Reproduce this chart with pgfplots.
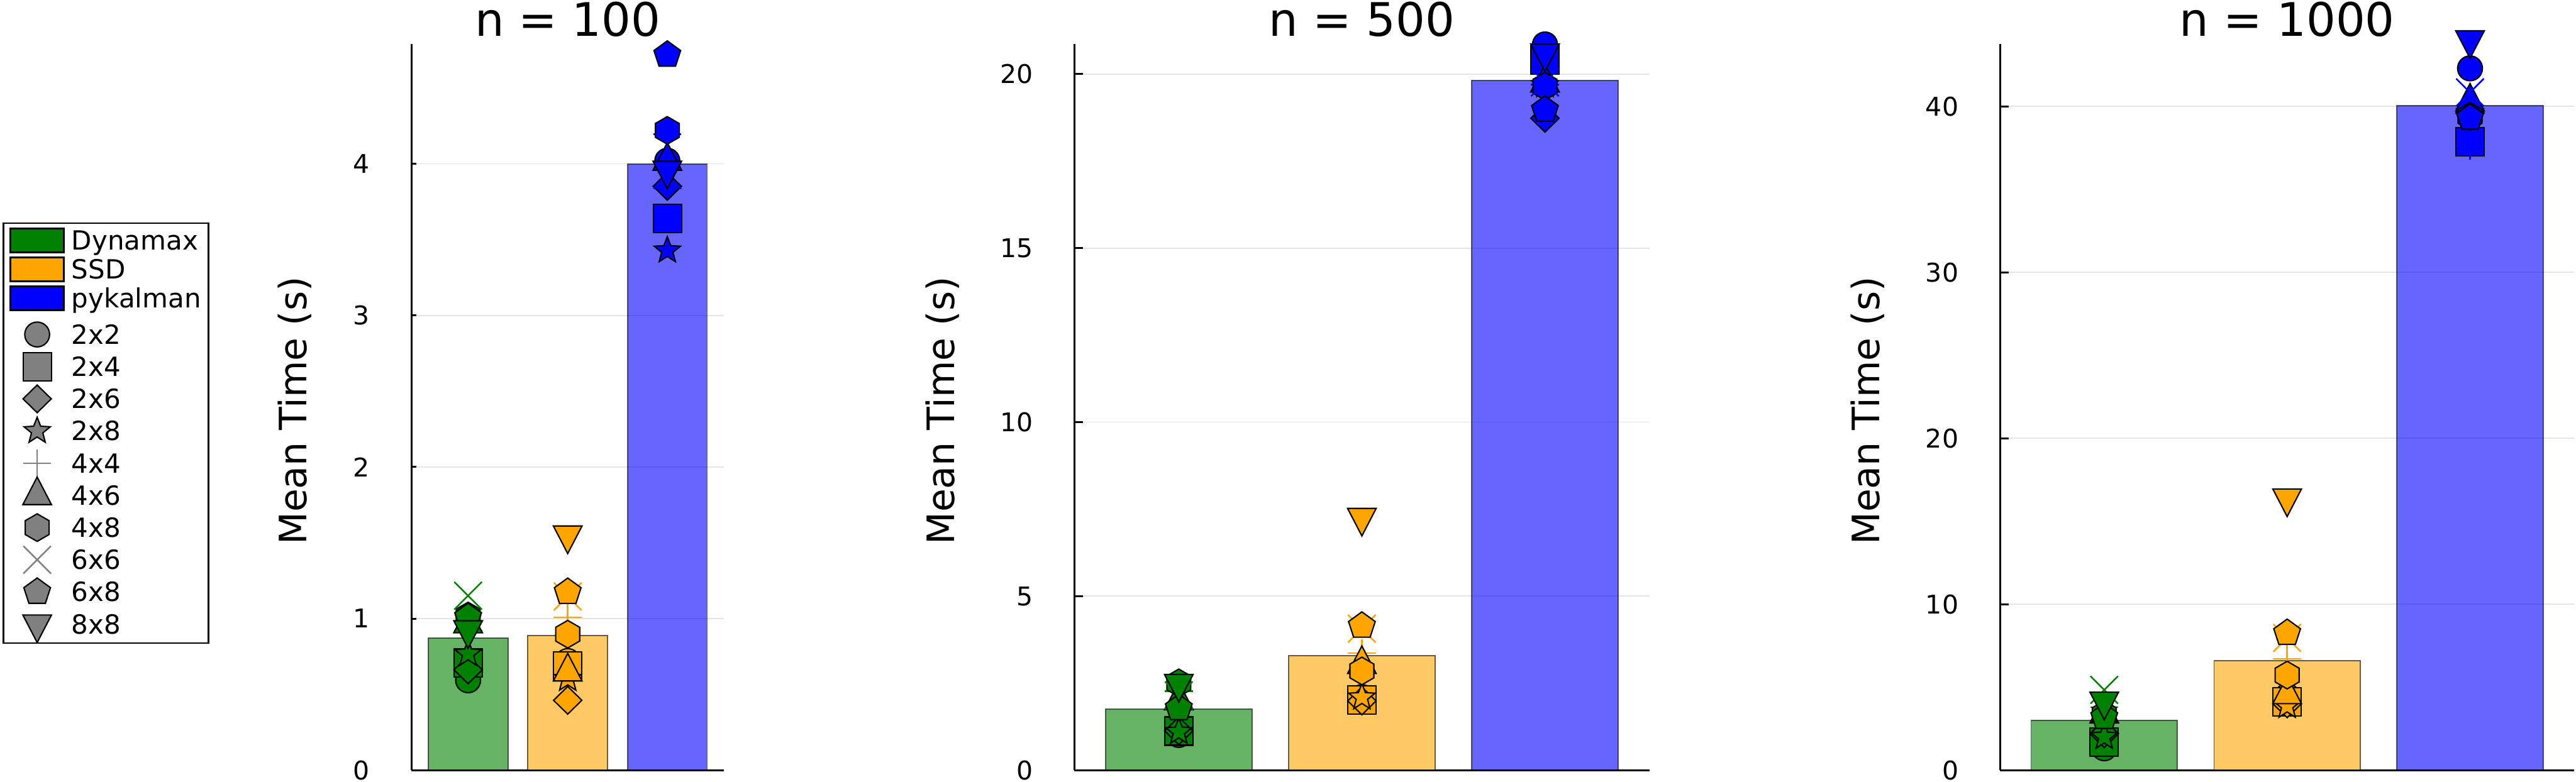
\documentclass[border=0pt]{standalone}
\usepackage{pgfplots}
\pgfplotsset{compat=1.18}
\usepackage{fontspec}
\setmainfont{DejaVu Sans}
\usetikzlibrary{plotmarks}

\definecolor{dgreen}{RGB}{0,128,0}
\definecolor{dorange}{RGB}{255,165,0}
\definecolor{dblue}{RGB}{0,0,255}
\definecolor{mgray}{RGB}{128,128,128}

% ---------- custom marks (sizes in pt) ----------
\pgfdeclareplotmark{jcirc}{\pgfpathcircle{\pgfpointorigin}{3.95pt}\pgfusepathqfillstroke}
\pgfdeclareplotmark{jsq}{\pgfpathrectangle{\pgfqpoint{-4.5pt}{-4.5pt}}{\pgfqpoint{9pt}{9pt}}\pgfusepathqfillstroke}
\pgfdeclareplotmark{jdia}{%
  \pgfpathmoveto{\pgfqpoint{0pt}{4.4pt}}\pgfpathlineto{\pgfqpoint{4.5pt}{0pt}}%
  \pgfpathlineto{\pgfqpoint{0pt}{-4.4pt}}\pgfpathlineto{\pgfqpoint{-4.5pt}{0pt}}%
  \pgfpathclose\pgfusepathqfillstroke}
\pgfdeclareplotmark{jtri}{%
  \pgfpathmoveto{\pgfqpoint{0pt}{5.85pt}}\pgfpathlineto{\pgfqpoint{4.55pt}{-2.92pt}}%
  \pgfpathlineto{\pgfqpoint{-4.55pt}{-2.92pt}}\pgfpathclose\pgfusepathqfillstroke}
\pgfdeclareplotmark{jdtri}{%
  \pgfpathmoveto{\pgfqpoint{0pt}{-5.85pt}}\pgfpathlineto{\pgfqpoint{4.55pt}{2.92pt}}%
  \pgfpathlineto{\pgfqpoint{-4.55pt}{2.92pt}}\pgfpathclose\pgfusepathqfillstroke}
\pgfdeclareplotmark{jhex}{%
  \pgfpathmoveto{\pgfqpointpolar{90}{4.39pt}}\pgfpathlineto{\pgfqpointpolar{150}{4.39pt}}%
  \pgfpathlineto{\pgfqpointpolar{210}{4.39pt}}\pgfpathlineto{\pgfqpointpolar{270}{4.39pt}}%
  \pgfpathlineto{\pgfqpointpolar{330}{4.39pt}}\pgfpathlineto{\pgfqpointpolar{30}{4.39pt}}%
  \pgfpathclose\pgfusepathqfillstroke}
\pgfdeclareplotmark{jpent}{%
  \pgfpathmoveto{\pgfqpointpolar{90}{4.46pt}}\pgfpathlineto{\pgfqpointpolar{162}{4.46pt}}%
  \pgfpathlineto{\pgfqpointpolar{234}{4.46pt}}\pgfpathlineto{\pgfqpointpolar{306}{4.46pt}}%
  \pgfpathlineto{\pgfqpointpolar{18}{4.46pt}}\pgfpathclose\pgfusepathqfillstroke}
\pgfdeclareplotmark{jstar}{%
  \pgfpathmoveto{\pgfqpointpolar{90}{4.4pt}}\pgfpathlineto{\pgfqpointpolar{126}{1.9pt}}%
  \pgfpathlineto{\pgfqpointpolar{162}{4.4pt}}\pgfpathlineto{\pgfqpointpolar{198}{1.9pt}}%
  \pgfpathlineto{\pgfqpointpolar{234}{4.4pt}}\pgfpathlineto{\pgfqpointpolar{270}{1.9pt}}%
  \pgfpathlineto{\pgfqpointpolar{306}{4.4pt}}\pgfpathlineto{\pgfqpointpolar{342}{1.9pt}}%
  \pgfpathlineto{\pgfqpointpolar{18}{4.4pt}}\pgfpathlineto{\pgfqpointpolar{54}{1.9pt}}%
  \pgfpathclose\pgfusepathqfillstroke}
\pgfdeclareplotmark{jx}{%
  \pgfpathmoveto{\pgfqpoint{-4.39pt}{-4.39pt}}\pgfpathlineto{\pgfqpoint{4.39pt}{4.39pt}}%
  \pgfpathmoveto{\pgfqpoint{-4.39pt}{4.39pt}}\pgfpathlineto{\pgfqpoint{4.39pt}{-4.39pt}}%
  \pgfusepathqstroke}
\pgfdeclareplotmark{jplus}{%
  \pgfpathmoveto{\pgfqpoint{-4.47pt}{0pt}}\pgfpathlineto{\pgfqpoint{4.47pt}{0pt}}%
  \pgfpathmoveto{\pgfqpoint{0pt}{-4.47pt}}\pgfpathlineto{\pgfqpoint{0pt}{4.47pt}}%
  \pgfusepathqstroke}

\pgfplotsset{
  filled/.style 2 args={only marks, forget plot, mark=#1,
     mark options={draw=black, fill=#2, line width=0.42pt, solid}},
  lined/.style 2 args={only marks, forget plot, mark=#1,
     mark options={draw=#2, line width=0.5pt, solid}},
  pc/.style={filled={jcirc}{#1}},
  psq/.style={filled={jsq}{#1}},
  pdia/.style={filled={jdia}{#1}},
  pstar/.style={filled={jstar}{#1}},
  pplus/.style={lined={jplus}{#1}},
  ptri/.style={filled={jtri}{#1}},
  phex/.style={filled={jhex}{#1}},
  px/.style={lined={jx}{#1}},
  ppent/.style={filled={jpent}{#1}},
  pdtri/.style={filled={jdtri}{#1}},
  bar/.style={ybar, bar width=0.8, bar shift=0pt, fill=#1, fill opacity=0.6,
     draw=black, draw opacity=0.6, line width=0.35pt, forget plot},
  barleg/.style={legend image code/.code={%
     \begin{pgfinterruptboundingbox}\draw[##1] (0pt,-3.83pt) rectangle (17pt,3.83pt);\end{pgfinterruptboundingbox}%
     \path[draw=none,fill=none] (0pt,-4.6pt) rectangle (17pt,4.6pt);}},
  barlegB/.style={legend image code/.code={%
     \begin{pgfinterruptboundingbox}\draw[##1] (0pt,-3.83pt) rectangle (17pt,3.83pt);\end{pgfinterruptboundingbox}%
     \path[draw=none,fill=none] (0pt,-6.4pt) rectangle (17pt,4.6pt);}},
  markleg/.style={legend image code/.code={%
     \begin{pgfinterruptboundingbox}\draw[##1] plot coordinates {(8.5pt,0pt)};\end{pgfinterruptboundingbox}%
     \path[draw=none,fill=none] (0pt,-5.12pt) rectangle (17pt,5.12pt);}},
  every axis title shift=0pt,
  jaxis/.style={
    scale only axis, anchor=south west,
    height=230.98pt,
    xmin=-0.57, xmax=2.57, ymin=0,
    xtick=\empty,
    axis lines*=left,
    axis line style={line width=0.6pt, black},
    ymajorgrids, grid style={line width=0.35pt, black!10},
    tick align=inside,
    major tick style={line width=0.6pt, black},
    clip=false,
    /pgf/number format/assume math mode=true,
    yticklabel style={font=\fontsize{8.2}{9.8}\selectfont, inner sep=0pt, anchor=east, xshift=-13pt},
    ylabel={Mean Time (s)},
    ylabel style={font=\fontsize{12}{14}\selectfont, anchor=base, inner sep=0pt},
    title style={font=\fontsize{14.7}{17}\selectfont, at={(axis description cs:0.5,1.0108)}, anchor=base, inner sep=0pt},
  },
}

\begin{document}
\begin{tikzpicture}
\path[use as bounding box] (0pt,0pt) rectangle (819.12pt,248.6pt);

% ================= n = 100 =================
\begin{axis}[jaxis, at={(130.8pt,3.58pt)}, width=99.44pt,
  ymax=4.789, ytick={0,1,2,3,4}, major tick length=1.55pt,
  title={n = 100},
  ylabel style={at={(axis description cs:-0.335,0.495)}},
  legend cell align=left,
  legend style={at={(axis description cs:-1.3078,0.7547)}, anchor=north west,
    draw=black, line width=0.58pt, fill=white,
    inner xsep=2.28pt, inner ysep=0.9pt, row sep=0pt, column sep=2.46pt,
    font=\fontsize{8.4}{10}\selectfont,
    nodes={inner sep=0pt, text height=6.1pt, text depth=0pt}},
]
\addlegendimage{barleg, fill=dgreen, draw=black, line width=0.6pt}
\addlegendentry{Dynamax}
\addlegendimage{barleg, fill=dorange, draw=black, line width=0.6pt}
\addlegendentry{SSD}
\addlegendimage{barlegB, fill=dblue, draw=black, line width=0.6pt}
\addlegendentry{pykalman}
\addlegendimage{markleg, mark=jcirc, mark options={draw=black, fill=mgray, line width=0.42pt}}
\addlegendentry{2x2}
\addlegendimage{markleg, mark=jsq, mark options={draw=black, fill=mgray, line width=0.42pt}}
\addlegendentry{2x4}
\addlegendimage{markleg, mark=jdia, mark options={draw=black, fill=mgray, line width=0.42pt}}
\addlegendentry{2x6}
\addlegendimage{markleg, mark=jstar, mark options={draw=black, fill=mgray, line width=0.42pt}}
\addlegendentry{2x8}
\addlegendimage{markleg, mark=jplus, mark options={draw=mgray, line width=0.5pt}}
\addlegendentry{4x4}
\addlegendimage{markleg, mark=jtri, mark options={draw=black, fill=mgray, line width=0.42pt}}
\addlegendentry{4x6}
\addlegendimage{markleg, mark=jhex, mark options={draw=black, fill=mgray, line width=0.42pt}}
\addlegendentry{4x8}
\addlegendimage{markleg, mark=jx, mark options={draw=mgray, line width=0.5pt}}
\addlegendentry{6x6}
\addlegendimage{markleg, mark=jpent, mark options={draw=black, fill=mgray, line width=0.42pt}}
\addlegendentry{6x8}
\addlegendimage{markleg, mark=jdtri, mark options={draw=black, fill=mgray, line width=0.42pt}}
\addlegendentry{8x8}

\addplot[bar=dgreen]  coordinates {(0,0.872)};
\addplot[bar=dorange] coordinates {(1,0.887)};
\addplot[bar=dblue]   coordinates {(2,3.997)};

\addplot[pc=dgreen] coordinates {(0,0.593)};
\addplot[pc=dorange] coordinates {(1,0.72)};
\addplot[pc=dblue] coordinates {(2,4.02)};
\addplot[psq=dgreen] coordinates {(0,0.708)};
\addplot[psq=dorange] coordinates {(1,0.686)};
\addplot[psq=dblue] coordinates {(2,3.638)};
\addplot[pdia=dgreen] coordinates {(0,0.662)};
\addplot[pdia=dorange] coordinates {(1,0.461)};
\addplot[pdia=dblue] coordinates {(2,3.851)};
\addplot[pstar=dgreen] coordinates {(0,0.767)};
\addplot[pstar=dorange] coordinates {(1,0.602)};
\addplot[pstar=dblue] coordinates {(2,3.428)};
\addplot[pplus=dgreen] coordinates {(0,0.92)};
\addplot[pplus=dorange] coordinates {(1,1.009)};
\addplot[pplus=dblue] coordinates {(2,4.195)};
\addplot[ptri=dgreen] coordinates {(0,0.967)};
\addplot[ptri=dorange] coordinates {(1,0.649)};
\addplot[ptri=dblue] coordinates {(2,4.018)};
\addplot[phex=dgreen] coordinates {(0,1.017)};
\addplot[phex=dorange] coordinates {(1,0.897)};
\addplot[phex=dblue] coordinates {(2,4.22)};
\addplot[px=dgreen] coordinates {(0,1.151)};
\addplot[px=dorange] coordinates {(1,1.146)};
\addplot[px=dblue] coordinates {(2,3.926)};
\addplot[ppent=dgreen] coordinates {(0,1.01)};
\addplot[ppent=dorange] coordinates {(1,1.175)};
\addplot[ppent=dblue] coordinates {(2,4.718)};
\addplot[pdtri=dgreen] coordinates {(0,0.925)};
\addplot[pdtri=dorange] coordinates {(1,1.55)};
\addplot[pdtri=dblue] coordinates {(2,3.956)};
\end{axis}

% ================= n = 500 =================
\begin{axis}[jaxis, at={(341.65pt,3.58pt)}, width=182.8pt,
  ymax=20.86, ytick={0,5,10,15,20}, major tick length=2.8pt,
  title={n = 500},
  ylabel style={at={(axis description cs:-0.2094,0.495)}},
]
\addplot[bar=dgreen]  coordinates {(0,1.752)};
\addplot[bar=dorange] coordinates {(1,3.285)};
\addplot[bar=dblue]   coordinates {(2,19.81)};

\addplot[pc=dgreen] coordinates {(0,1.013)};
\addplot[pc=dorange] coordinates {(1,2.1)};
\addplot[pc=dblue] coordinates {(2,20.85)};
\addplot[psq=dgreen] coordinates {(0,1.124)};
\addplot[psq=dorange] coordinates {(1,2.017)};
\addplot[psq=dblue] coordinates {(2,20.41)};
\addplot[pdia=dgreen] coordinates {(0,1.13)};
\addplot[pdia=dorange] coordinates {(1,1.99)};
\addplot[pdia=dblue] coordinates {(2,18.73)};
\addplot[pstar=dgreen] coordinates {(0,1.10)};
\addplot[pstar=dorange] coordinates {(1,2.09)};
\addplot[pstar=dblue] coordinates {(2,19.68)};
\addplot[pplus=dgreen] coordinates {(0,2.271)};
\addplot[pplus=dorange] coordinates {(1,3.364)};
\addplot[pplus=dblue] coordinates {(2,19.7)};
\addplot[ptri=dgreen] coordinates {(0,2.0)};
\addplot[ptri=dorange] coordinates {(1,3.041)};
\addplot[ptri=dblue] coordinates {(2,19.75)};
\addplot[phex=dgreen] coordinates {(0,2.509)};
\addplot[phex=dorange] coordinates {(1,2.851)};
\addplot[phex=dblue] coordinates {(2,19.65)};
\addplot[px=dgreen] coordinates {(0,2.149)};
\addplot[px=dorange] coordinates {(1,4.067)};
\addplot[px=dblue] coordinates {(2,19.76)};
\addplot[ppent=dgreen] coordinates {(0,1.78)};
\addplot[ppent=dorange] coordinates {(1,4.146)};
\addplot[ppent=dblue] coordinates {(2,18.97)};
\addplot[pdtri=dgreen] coordinates {(0,2.488)};
\addplot[pdtri=dorange] coordinates {(1,7.258)};
\addplot[pdtri=dblue] coordinates {(2,20.60)};
\end{axis}

% ================= n = 1000 =================
\begin{axis}[jaxis, at={(635.96pt,3.58pt)}, width=182.6pt,
  ymax=43.75, ytick={0,10,20,30,40}, major tick length=2.8pt,
  title={n = 1000},
  ylabel style={at={(axis description cs:-0.2094,0.495)}},
]
\addplot[bar=dgreen]  coordinates {(0,3.01)};
\addplot[bar=dorange] coordinates {(1,6.61)};
\addplot[bar=dblue]   coordinates {(2,40.05)};

\addplot[pc=dgreen] coordinates {(0,1.32)};
\addplot[pc=dorange] coordinates {(1,4.47)};
\addplot[pc=dblue] coordinates {(2,42.29)};
\addplot[psq=dgreen] coordinates {(0,1.71)};
\addplot[psq=dorange] coordinates {(1,4.13)};
\addplot[psq=dblue] coordinates {(2,37.88)};
\addplot[pdia=dgreen] coordinates {(0,2.2)};
\addplot[pdia=dorange] coordinates {(1,4.0)};
\addplot[pdia=dblue] coordinates {(2,39.6)};
\addplot[pstar=dgreen] coordinates {(0,2.0)};
\addplot[pstar=dorange] coordinates {(1,3.87)};
\addplot[pstar=dblue] coordinates {(2,39.6)};
\addplot[pplus=dgreen] coordinates {(0,3.8)};
\addplot[pplus=dorange] coordinates {(1,6.72)};
\addplot[pplus=dblue] coordinates {(2,37.64)};
\addplot[ptri=dgreen] coordinates {(0,3.4)};
\addplot[ptri=dorange] coordinates {(1,4.56)};
\addplot[ptri=dblue] coordinates {(2,40.27)};
\addplot[phex=dgreen] coordinates {(0,3.35)};
\addplot[phex=dorange] coordinates {(1,5.73)};
\addplot[phex=dblue] coordinates {(2,39.4)};
\addplot[px=dgreen] coordinates {(0,4.84)};
\addplot[px=dorange] coordinates {(1,7.97)};
\addplot[px=dblue] coordinates {(2,40.84)};
\addplot[ppent=dgreen] coordinates {(0,3.2)};
\addplot[ppent=dorange] coordinates {(1,8.26)};
\addplot[ppent=dblue] coordinates {(2,39.31)};
\addplot[pdtri=dgreen] coordinates {(0,4.15)};
\addplot[pdtri=dorange] coordinates {(1,16.39)};
\addplot[pdtri=dblue] coordinates {(2,44.0)};
\end{axis}
\end{tikzpicture}
\end{document}
